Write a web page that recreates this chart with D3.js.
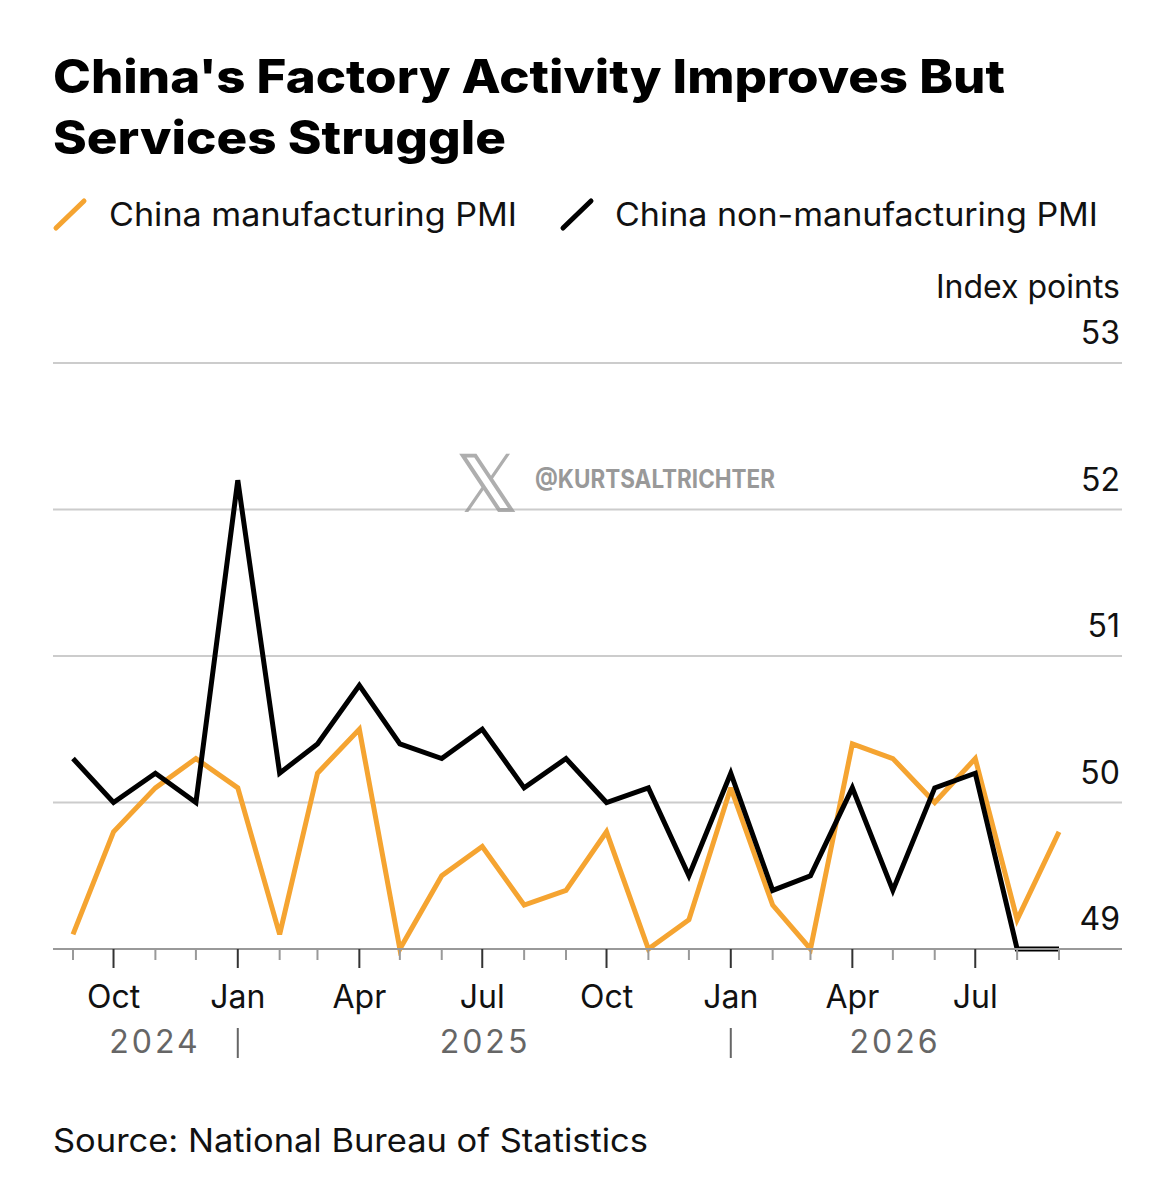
<!DOCTYPE html>
<html><head><meta charset="utf-8">
<script src="https://cdn.jsdelivr.net/npm/d3@7"></script>
<style>body{margin:0;background:#fff}svg{font-family:Inter,"Liberation Sans",Arial,sans-serif}</style>
</head><body><svg id="c" width="1176" height="1200"></svg>
<script>
const months = ["2024-09","2024-10","2024-11","2024-12","2025-01","2025-02","2025-03","2025-04","2025-05","2025-06","2025-07","2025-08","2025-09","2025-10","2025-11","2025-12","2026-01","2026-02","2026-03","2026-04","2026-05","2026-06","2026-07","2026-08","2026-09"];
const manufacturing = [49.1,49.8,50.1,50.3,50.1,49.1,50.2,50.5,49.0,49.5,49.7,49.3,49.4,49.8,49.0,49.2,50.1,49.3,49.0,50.4,50.3,50.0,50.3,49.2,49.8];
const nonManufacturing = [50.3,50.0,50.2,50.0,52.2,50.2,50.4,50.8,50.4,50.3,50.5,50.1,50.3,50.0,50.1,49.5,50.2,49.4,49.5,50.1,49.4,50.1,50.2,49.0,49.0];
const yTicks = [49,50,51,52,53];
const seriesNames = ["China manufacturing PMI","China non-manufacturing PMI"];
const colors = ["#f5a431","#000000"];

const svg = d3.select("#c");
const parse = d3.timeParse("%Y-%m");
const dates = months.map(parse);
const x = d3.scaleTime().domain([dates[0], dates[dates.length-1]]).range([73,1059]);
const y = d3.scaleLinear().domain([49,53]).range([949,363]);

svg.append("text").attr("x",53).attr("y",93).attr("font-size",46).attr("font-weight",800).attr("fill","#000").attr("textLength",952).attr("lengthAdjust","spacingAndGlyphs").text("China's Factory Activity Improves But");
svg.append("text").attr("x",53).attr("y",154).attr("font-size",46).attr("font-weight",800).attr("fill","#000").attr("textLength",453).attr("lengthAdjust","spacingAndGlyphs").text("Services Struggle");

// legend
const lg = [[53,109,408],[560,615,483]];
seriesNames.forEach((n,i)=>{
  svg.append("line").attr("x1",lg[i][0]+3).attr("y1",228).attr("x2",lg[i][0]+31).attr("y2",201).attr("stroke",colors[i]).attr("stroke-width",5).attr("stroke-linecap","round");
  svg.append("text").attr("x",lg[i][1]).attr("y",226).attr("font-size",32).attr("fill","#111").attr("textLength",lg[i][2]).attr("lengthAdjust","spacingAndGlyphs").text(n);
});

svg.append("text").attr("x",1120).attr("y",298).attr("text-anchor","end").attr("font-size",32).attr("fill","#111").text("Index points");

// grid
yTicks.forEach(t=>{
  if(t>49) svg.append("line").attr("x1",53).attr("x2",1122).attr("y1",y(t)).attr("y2",y(t)).attr("stroke","#ccc").attr("stroke-width",2);
  svg.append("text").attr("x",1120).attr("y",y(t)-19).attr("text-anchor","end").attr("font-size",32).attr("fill","#111").text(t);
});

// watermark
svg.append("text").attr("x",455).attr("y",512).attr("font-size",80).attr("font-weight",300).attr("fill","#9a9a9a").attr("opacity",0.8).text("𝕏");
svg.append("text").attr("x",535).attr("y",488).attr("font-size",25).attr("font-weight",700).attr("fill","#999").attr("textLength",240).attr("lengthAdjust","spacingAndGlyphs").text("@KURTSALTRICHTER");

// lines
const line = d3.line().x((d,i)=>x(dates[i])).y(d=>y(d));
[manufacturing, nonManufacturing].forEach((s,i)=>{
  svg.append("path").datum(s).attr("d",line).attr("fill","none").attr("stroke",colors[i]).attr("stroke-width",5).attr("stroke-linejoin","miter").attr("stroke-miterlimit",3);
});

// x axis
svg.append("line").attr("x1",53).attr("x2",1122).attr("y1",949).attr("y2",949).attr("stroke","#999").attr("stroke-width",2);
const allMonths = d3.timeMonth.range(parse("2024-08"), parse("2026-10"));
allMonths.forEach(d=>{
  const xx = x(d); if(xx<55||xx>1120) return;
  const major = [0,3,6,9].includes(d.getMonth());
  svg.append("line").attr("x1",xx).attr("x2",xx).attr("y1",949).attr("y2",major?968:960).attr("stroke",major?"#333":"#999").attr("stroke-width",2);
  if(major && xx<1040) svg.append("text").attr("x",xx).attr("y",1008).attr("text-anchor","middle").attr("font-size",32).attr("fill","#111").text(d3.timeFormat("%b")(d));
});
const yearLabels = [["2024",155],["2025",485],["2026",895]];
yearLabels.forEach(([t,xx])=>svg.append("text").attr("x",xx).attr("y",1053).attr("text-anchor","middle").attr("font-size",32).attr("letter-spacing",3).attr("fill","#666").text(t));
[parse("2025-01"),parse("2026-01")].forEach(d=>svg.append("line").attr("x1",x(d)).attr("x2",x(d)).attr("y1",1028).attr("y2",1058).attr("stroke","#666").attr("stroke-width",2));

svg.append("text").attr("x",53).attr("y",1152).attr("font-size",32).attr("fill","#111").attr("textLength",595).attr("lengthAdjust","spacingAndGlyphs").text("Source: National Bureau of Statistics");
</script></body></html>
